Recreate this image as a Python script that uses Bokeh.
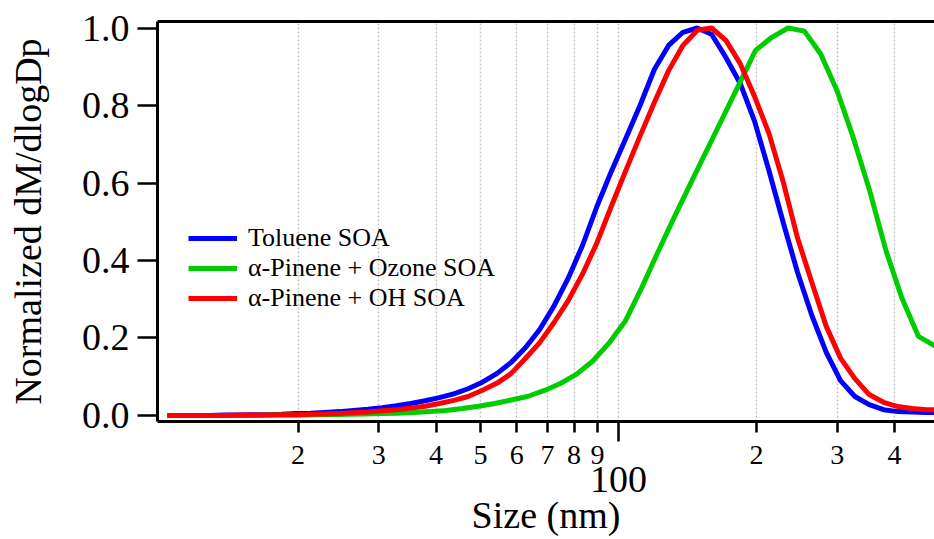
from bokeh.plotting import figure
from bokeh.models import (ColumnDataSource, FixedTicker, Legend, LegendItem,
                          LogAxis, PrintfTickFormatter)
from bokeh.embed import file_html
from bokeh.resources import INLINE

# Mobility diameters (nm) of the SMPS bins used for the toluene and alpha-pinene + OH scans
sizes = [10.37, 11.14, 11.97, 12.86, 13.82, 14.86, 15.96, 17.15, 18.43, 19.81,
         21.29, 22.88, 24.58, 26.42, 28.39, 30.50, 32.78, 35.23, 37.85, 40.68,
         43.71, 46.97, 50.48, 54.25, 58.29, 62.64, 67.31, 72.34, 77.73, 83.53,
         89.76, 96.46, 103.7, 111.4, 119.7, 128.6, 138.2, 148.5, 159.6, 171.5,
         184.3, 198.1, 212.9, 228.7, 245.8, 264.1, 283.9, 305.0, 327.8, 352.2,
         378.5, 406.8, 437.1, 469.7, 504.8]

toluene = [0.000, 0.000, 0.000, 0.000, 0.001, 0.001, 0.002, 0.002, 0.003, 0.005,
           0.006, 0.008, 0.010, 0.013, 0.016, 0.020, 0.025, 0.031, 0.038, 0.046,
           0.056, 0.069, 0.086, 0.108, 0.137, 0.175, 0.222, 0.283, 0.355, 0.440,
           0.540, 0.630, 0.715, 0.800, 0.893, 0.955, 0.989, 1.000, 0.984, 0.924,
           0.857, 0.759, 0.632, 0.498, 0.369, 0.258, 0.163, 0.090, 0.049, 0.028,
           0.015, 0.010, 0.009, 0.008, 0.008]

pinene_oh = [0.000, 0.000, 0.000, 0.000, 0.000, 0.001, 0.001, 0.001, 0.002, 0.002,
             0.003, 0.004, 0.005, 0.007, 0.009, 0.012, 0.015, 0.019, 0.024, 0.031,
             0.039, 0.049, 0.065, 0.083, 0.108, 0.147, 0.188, 0.240, 0.297, 0.366,
             0.446, 0.540, 0.632, 0.721, 0.808, 0.890, 0.955, 0.994, 1.000, 0.968,
             0.908, 0.823, 0.728, 0.603, 0.458, 0.343, 0.230, 0.148, 0.095, 0.054,
             0.034, 0.023, 0.018, 0.015, 0.015]

# The ozonolysis scan was recorded on its own bin set
sizes_o3 = [10.5, 11.3, 12.3, 13.4, 14.5, 15.7, 17.1, 18.5, 20.1, 21.8,
            23.7, 25.7, 27.9, 30.3, 32.9, 35.7, 38.7, 42.0, 45.6, 49.5,
            53.7, 58.3, 63.3, 68.7, 74.5, 80.9, 87.8, 95.2, 103.4, 112.2,
            121.7, 132.1, 143.4, 155.6, 168.9, 183.3, 198.9, 216.0, 234.4, 254.4,
            276.1, 299.6, 325.2, 352.9, 383.1, 415.7, 451.2, 489.7, 531.5]

pinene_o3 = [0.000, 0.000, 0.000, 0.000, 0.000, 0.000, 0.001, 0.001, 0.001, 0.002,
             0.002, 0.003, 0.004, 0.005, 0.006, 0.008, 0.010, 0.013, 0.018, 0.024,
             0.031, 0.040, 0.049, 0.064, 0.082, 0.106, 0.140, 0.186, 0.243, 0.328,
             0.420, 0.510, 0.597, 0.683, 0.769, 0.855, 0.942, 0.976, 1.000, 0.992,
             0.933, 0.839, 0.717, 0.581, 0.426, 0.301, 0.204, 0.180, 0.160]

series_labels = ["Toluene SOA", "\u03b1-Pinene + Ozone SOA", "\u03b1-Pinene + OH SOA"]
series_colors = ["#0000ff", "#00cc00", "#ff0000"]

# Log-axis ticks: labelled sub-decade ticks plus the decade tick at 100 nm
tick_sizes = [20, 30, 40, 50, 60, 70, 80, 90, 200, 300, 400]
tick_labels = ["2", "3", "4", "5", "6", "7", "8", "9", "2", "3", "4"]
decade_tick = 100
decade_label = "100"
grid_sizes = [20, 30, 40, 50, 60, 70, 80, 90, 100, 200, 300, 400]

y_ticks = [0.0, 0.2, 0.4, 0.6, 0.8, 1.0]

FONT = "Liberation Serif"

p = figure(width=934, height=539, x_axis_type="log",
           x_range=(9.87, 489.0), y_range=(-0.0155, 1.0168),
           output_backend="svg", toolbar_location=None,
           min_border_left=157, min_border_right=0,
           min_border_top=21, min_border_bottom=118)
p.outline_line_color = None
p.background_fill_color = "white"
p.border_fill_color = "white"

# Bottom axis: sub-decade ticks with small labels, long unlabelled tick at the decade
xa = p.xaxis[0]
xa.ticker = FixedTicker(ticks=tick_sizes, minor_ticks=[decade_tick])
xa.major_label_overrides = {t: lab for t, lab in zip(tick_sizes, tick_labels)}
xa.axis_line_width = 3
xa.axis_line_color = "black"
xa.major_tick_in = 0
xa.major_tick_out = 11
xa.minor_tick_in = 0
xa.minor_tick_out = 20
xa.major_tick_line_width = 2.5
xa.minor_tick_line_width = 2.5
xa.major_tick_line_color = "black"
xa.minor_tick_line_color = "black"
xa.major_label_text_font = FONT
xa.major_label_text_font_size = "28px"
xa.major_label_text_color = "black"
xa.major_label_standoff = 4

# Second row under it: the decade label and the axis title
xb = LogAxis(ticker=FixedTicker(ticks=[decade_tick]),
             major_label_overrides={decade_tick: decade_label},
             axis_line_color=None, major_tick_line_color=None, minor_tick_line_color=None,
             major_tick_in=0, major_tick_out=0, minor_tick_in=0, minor_tick_out=0,
             major_label_standoff=0,
             major_label_text_font=FONT, major_label_text_font_size="38px",
             major_label_text_color="black",
             axis_label="Size (nm)", axis_label_text_font=FONT,
             axis_label_text_font_size="38px", axis_label_text_font_style="normal",
             axis_label_text_color="black", axis_label_standoff=-1)
p.add_layout(xb, "below")

# Left axis
ya = p.yaxis[0]
ya.ticker = FixedTicker(ticks=y_ticks)
ya.formatter = PrintfTickFormatter(format="%.1f")
ya.axis_line_width = 3
ya.axis_line_color = "black"
ya.major_tick_in = 0
ya.major_tick_out = 20
ya.major_tick_line_width = 2.5
ya.major_tick_line_color = "black"
ya.minor_tick_line_color = None
ya.major_label_text_font = FONT
ya.major_label_text_font_size = "38px"
ya.major_label_text_color = "black"
ya.major_label_standoff = 8
ya.axis_label = "Normalized dM/dlogDp"
ya.axis_label_text_font = FONT
ya.axis_label_text_font_size = "38px"
ya.axis_label_text_font_style = "normal"
ya.axis_label_text_color = "black"
ya.axis_label_standoff = 30

# Top frame line
top = LogAxis(ticker=FixedTicker(ticks=[]), axis_line_width=3, axis_line_color="black",
              major_tick_out=0, major_tick_in=0, minor_tick_out=0, minor_tick_in=0,
              major_label_standoff=0)
p.add_layout(top, "above")

# Dotted vertical grid at the sub-decade ticks
p.xgrid.ticker = FixedTicker(ticks=grid_sizes)
p.xgrid.grid_line_color = "#c4c4c4"
p.xgrid.grid_line_dash = "2 2"
p.xgrid.grid_line_width = 1.5
p.ygrid.visible = False

src_main = ColumnDataSource(dict(d=sizes, tol=toluene, oh=pinene_oh))
src_o3 = ColumnDataSource(dict(d=sizes_o3, o3=pinene_o3))

r_tol = p.line("d", "tol", source=src_main, line_color=series_colors[0], line_width=5)
r_o3 = p.line("d", "o3", source=src_o3, line_color=series_colors[1], line_width=5)
r_oh = p.line("d", "oh", source=src_main, line_color=series_colors[2], line_width=5)

legend = Legend(items=[LegendItem(label=series_labels[0], renderers=[r_tol]),
                       LegendItem(label=series_labels[1], renderers=[r_o3]),
                       LegendItem(label=series_labels[2], renderers=[r_oh])],
                location=(31, 107.7), orientation="vertical",
                border_line_color=None, background_fill_alpha=0,
                padding=0, margin=0, spacing=0,
                glyph_width=49, glyph_height=30, label_height=30, label_standoff=11,
                label_text_font=FONT, label_text_font_size="26px",
                label_text_color="black")
p.add_layout(legend)

open("out.html", "w").write(file_html(p, INLINE))
